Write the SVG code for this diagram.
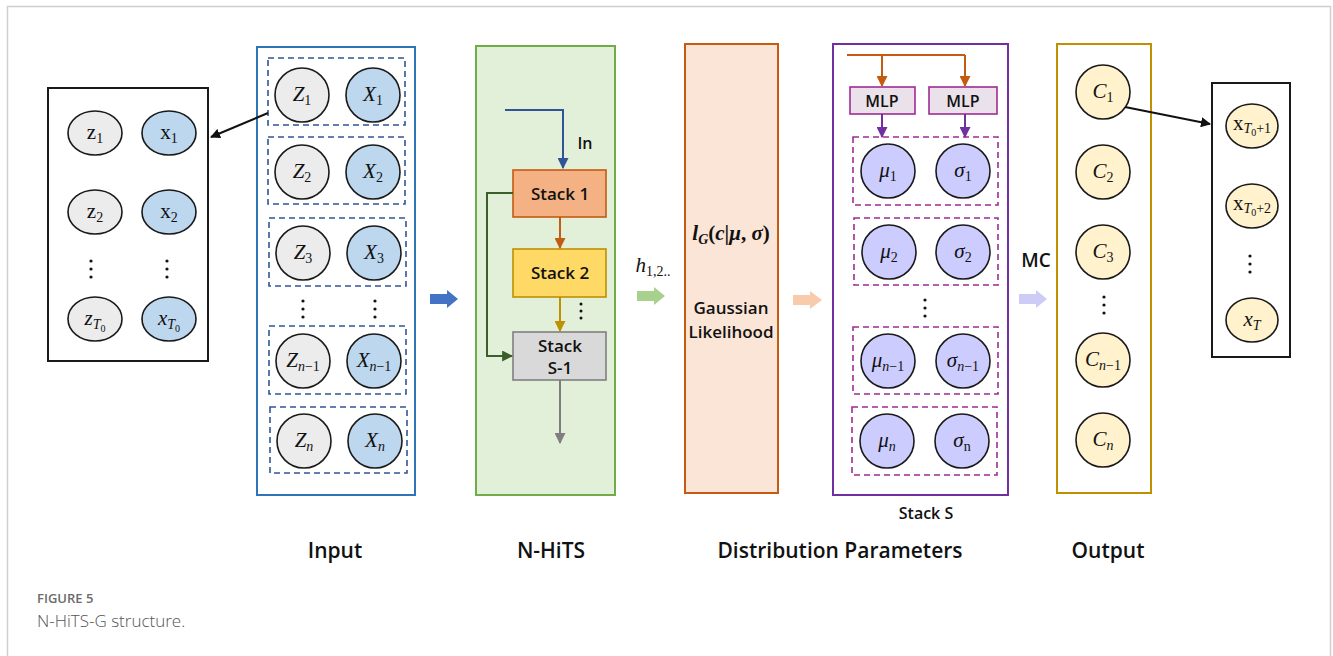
<svg xmlns="http://www.w3.org/2000/svg" width="1333" height="656" viewBox="0 0 1333 656">
<style>
.lbl{font-family:"Open Sans","Liberation Sans",sans-serif;font-weight:600;font-size:21px;text-anchor:middle;fill:#111}
.sans{font-family:"Open Sans","Liberation Sans",sans-serif;font-weight:600;text-anchor:middle;fill:#111}
.m{font-family:"Liberation Serif","DejaVu Serif",serif;font-style:italic;font-size:21px;text-anchor:middle;fill:#111}
.r{font-style:normal}
.s{font-size:14px;font-style:normal}
.si{font-size:14px;font-style:italic}
.ss{font-size:10px;font-style:normal}
.node{stroke:#1a1a1a;stroke-width:1.6}
.gray{fill:#ececec}.blue{fill:#bdd7ee}.lav{fill:#ccccff}.yel{fill:#fff2cc}
.dashB{fill:none;stroke:#2f5597;stroke-width:1.6;stroke-dasharray:6 4}
.dashP{fill:none;stroke:#a02b93;stroke-width:1.6;stroke-dasharray:6 4}
.dots{fill:#111}
</style>
<defs>
<marker id="aK" viewBox="0 0 10 10" refX="9" refY="5" markerWidth="10" markerHeight="10" markerUnits="userSpaceOnUse" orient="auto"><path d="M0,0 L10,5 L0,10 z" fill="#111"/></marker>
<marker id="aB" viewBox="0 0 10 10" refX="9" refY="5" markerWidth="11" markerHeight="11" markerUnits="userSpaceOnUse" orient="auto"><path d="M0,0 L10,5 L0,10 z" fill="#2f5597"/></marker>
<marker id="aO" viewBox="0 0 10 10" refX="9" refY="5" markerWidth="11" markerHeight="11" markerUnits="userSpaceOnUse" orient="auto"><path d="M0,0 L10,5 L0,10 z" fill="#c55a11"/></marker>
<marker id="aY" viewBox="0 0 10 10" refX="9" refY="5" markerWidth="11" markerHeight="11" markerUnits="userSpaceOnUse" orient="auto"><path d="M0,0 L10,5 L0,10 z" fill="#bf9000"/></marker>
<marker id="aG" viewBox="0 0 10 10" refX="9" refY="5" markerWidth="11" markerHeight="11" markerUnits="userSpaceOnUse" orient="auto"><path d="M0,0 L10,5 L0,10 z" fill="#7f7f7f"/></marker>
<marker id="aDG" viewBox="0 0 10 10" refX="9" refY="5" markerWidth="11" markerHeight="11" markerUnits="userSpaceOnUse" orient="auto"><path d="M0,0 L10,5 L0,10 z" fill="#3b5e2b"/></marker>
<marker id="aP" viewBox="0 0 10 10" refX="9" refY="5" markerWidth="11" markerHeight="11" markerUnits="userSpaceOnUse" orient="auto"><path d="M0,0 L10,5 L0,10 z" fill="#7030a0"/></marker>
</defs>
<rect width="1333" height="656" fill="#fff"/>
<path d="M7.5,670 V6.5 H1330.5 V670" fill="none" stroke="#cfcfcf" stroke-width="1.5"/>

<!-- left box -->
<g id="left-box">
<rect x="48" y="88" width="160" height="273" fill="#fff" stroke="#1a1a1a" stroke-width="2"/>
<ellipse class="node gray" cx="95" cy="133" rx="27" ry="22"/>
<ellipse class="node blue" cx="169" cy="133" rx="27" ry="22"/>
<ellipse class="node gray" cx="95" cy="212" rx="27" ry="22"/>
<ellipse class="node blue" cx="169" cy="212" rx="27" ry="22"/>
<ellipse class="node gray" cx="95" cy="319" rx="27" ry="22"/>
<ellipse class="node blue" cx="169" cy="319" rx="27" ry="22"/>
<text class="m r" x="95" y="139">z<tspan class="s" dy="4">1</tspan></text>
<text class="m r" x="169" y="139">x<tspan class="s" dy="4">1</tspan></text>
<text class="m r" x="95" y="218">z<tspan class="s" dy="4">2</tspan></text>
<text class="m r" x="169" y="218">x<tspan class="s" dy="4">2</tspan></text>
<text class="m" x="95" y="325">z<tspan class="si" dy="4">T</tspan><tspan class="ss" dy="3">0</tspan></text>
<text class="m" x="169" y="325">x<tspan class="si" dy="4">T</tspan><tspan class="ss" dy="3">0</tspan></text>
<g class="dots"><circle cx="91" cy="261" r="1.6"/><circle cx="91" cy="269" r="1.6"/><circle cx="91" cy="277" r="1.6"/><circle cx="167" cy="261" r="1.6"/><circle cx="167" cy="269" r="1.6"/><circle cx="167" cy="277" r="1.6"/></g>
</g>

<!-- input -->
<g id="input">
<rect x="257" y="47" width="158" height="448" fill="#fff" stroke="#2e75b6" stroke-width="2"/>
<rect class="dashB" x="268" y="58" width="137" height="67"/>
<rect class="dashB" x="268" y="137" width="137" height="67"/>
<rect class="dashB" x="269" y="218" width="137" height="68"/>
<rect class="dashB" x="269" y="326" width="137" height="68"/>
<rect class="dashB" x="270" y="407" width="137" height="66"/>
<circle class="node gray" cx="302" cy="95" r="27"/><circle class="node blue" cx="373" cy="95" r="27"/>
<circle class="node gray" cx="302" cy="172" r="27"/><circle class="node blue" cx="373" cy="172" r="27"/>
<circle class="node gray" cx="303" cy="253" r="27"/><circle class="node blue" cx="374" cy="253" r="27"/>
<circle class="node gray" cx="303" cy="361" r="27"/><circle class="node blue" cx="374" cy="361" r="27"/>
<circle class="node gray" cx="304" cy="441" r="27"/><circle class="node blue" cx="375" cy="441" r="27"/>
<text class="m" x="302" y="101">Z<tspan class="s" dy="4">1</tspan></text>
<text class="m" x="373" y="101">X<tspan class="s" dy="4">1</tspan></text>
<text class="m" x="302" y="178">Z<tspan class="s" dy="4">2</tspan></text>
<text class="m" x="373" y="178">X<tspan class="s" dy="4">2</tspan></text>
<text class="m" x="303" y="259">Z<tspan class="s" dy="4">3</tspan></text>
<text class="m" x="374" y="259">X<tspan class="s" dy="4">3</tspan></text>
<text class="m" x="303" y="367">Z<tspan class="si" dy="4">n</tspan><tspan class="s">−1</tspan></text>
<text class="m" x="374" y="367">X<tspan class="si" dy="4">n</tspan><tspan class="s">−1</tspan></text>
<text class="m" x="304" y="447">Z<tspan class="si" dy="4">n</tspan></text>
<text class="m" x="375" y="447">X<tspan class="si" dy="4">n</tspan></text>
<g class="dots"><circle cx="303" cy="301" r="1.6"/><circle cx="303" cy="309" r="1.6"/><circle cx="303" cy="317" r="1.6"/><circle cx="375" cy="301" r="1.6"/><circle cx="375" cy="309" r="1.6"/><circle cx="375" cy="317" r="1.6"/></g>
</g>

<!-- N-HiTS -->
<g id="nhits">
<rect x="476" y="46" width="139" height="449" fill="#e2f0d9" stroke="#70ad47" stroke-width="2"/>
<text class="sans" x="585" y="149" font-size="16" font-weight="500">In</text>
</g>
<g id="stack1">
<rect x="513" y="170" width="93" height="47" fill="#f4b183" stroke="#c55a11" stroke-width="1.6"/>
<text class="sans" x="560" y="200" font-size="17">Stack 1</text>
</g>
<g id="stack2">
<rect x="513" y="249" width="93" height="48" fill="#ffd966" stroke="#bf9000" stroke-width="1.6"/>
<text class="sans" x="560" y="279" font-size="17">Stack 2</text>
</g>
<g id="stack-s-1">
<rect x="513" y="332" width="93" height="48" fill="#d9d9d9" stroke="#7f7f7f" stroke-width="1.6"/>
<text class="sans" x="560" y="352" font-size="17">Stack</text>
<text class="sans" x="560" y="374" font-size="17">S-1</text>
</g>
<g class="dots"><circle cx="581" cy="304" r="1.5"/><circle cx="581" cy="311" r="1.5"/><circle cx="581" cy="318" r="1.5"/></g>

<text class="m" x="653" y="272">h<tspan class="s" dy="4">1,2..</tspan></text>

<!-- distribution -->
<g id="likelihood">
<rect x="685" y="44" width="93" height="449" fill="#fbe5d6" stroke="#c55a11" stroke-width="2"/>
<text class="m" x="731" y="240" font-weight="bold" font-size="20">l<tspan class="si" dy="4">G</tspan><tspan dy="-4" font-style="normal">(</tspan>c<tspan font-style="normal">|</tspan>μ<tspan font-style="normal">, </tspan>σ<tspan font-style="normal">)</tspan></text>
<text class="sans" x="731" y="314" font-size="17" font-weight="500">Gaussian</text>
<text class="sans" x="731" y="338" font-size="17" font-weight="500">Likelihood</text>
</g>

<g id="stack-s">
<rect x="833" y="44" width="175" height="451" fill="#fff" stroke="#7030a0" stroke-width="2"/>
<text class="sans" x="926" y="519" font-size="16">Stack S</text>
<rect x="850" y="87" width="65" height="27" fill="#ebe1ea" stroke="#a02b93" stroke-width="1.6"/>
<rect x="929" y="87" width="68" height="27" fill="#ebe1ea" stroke="#a02b93" stroke-width="1.6"/>
<text class="sans" x="882" y="107" font-size="16" font-weight="500">MLP</text>
<text class="sans" x="963" y="107" font-size="16" font-weight="500">MLP</text>
<rect class="dashP" x="853" y="137" width="145" height="68"/>
<rect class="dashP" x="854" y="218" width="144" height="67"/>
<rect class="dashP" x="853" y="327" width="145" height="67"/>
<rect class="dashP" x="852" y="407" width="145" height="68"/>
<circle class="node lav" cx="888" cy="171" r="27"/><circle class="node lav" cx="963" cy="171" r="27"/>
<circle class="node lav" cx="889" cy="252" r="27"/><circle class="node lav" cx="963" cy="252" r="27"/>
<circle class="node lav" cx="888" cy="361" r="27"/><circle class="node lav" cx="963" cy="361" r="27"/>
<circle class="node lav" cx="887" cy="441" r="27"/><circle class="node lav" cx="962" cy="441" r="27"/>
<text class="m" x="888" y="177">μ<tspan class="s" dy="4">1</tspan></text>
<text class="m" x="963" y="177">σ<tspan class="s" dy="4">1</tspan></text>
<text class="m" x="889" y="258">μ<tspan class="s" dy="4">2</tspan></text>
<text class="m" x="963" y="258">σ<tspan class="s" dy="4">2</tspan></text>
<text class="m" x="888" y="367">μ<tspan class="si" dy="4">n</tspan><tspan class="s">−1</tspan></text>
<text class="m" x="963" y="367">σ<tspan class="si" dy="4">n</tspan><tspan class="s">−1</tspan></text>
<text class="m" x="887" y="447">μ<tspan class="si" dy="4">n</tspan></text>
<text class="m" x="962" y="447">σ<tspan class="s" dy="4">n</tspan></text>
<g class="dots"><circle cx="925" cy="300" r="1.6"/><circle cx="925" cy="308" r="1.6"/><circle cx="925" cy="316" r="1.6"/></g>
</g>

<text class="sans" x="1036" y="267" font-size="19" font-weight="bold">MC</text>

<g id="output">
<rect x="1057" y="44" width="94" height="449" fill="#fff" stroke="#bf9000" stroke-width="2"/>
<circle class="node yel" cx="1103" cy="92" r="27"/>
<circle class="node yel" cx="1103" cy="172" r="27"/>
<circle class="node yel" cx="1103" cy="252" r="27"/>
<circle class="node yel" cx="1103" cy="360" r="27"/>
<circle class="node yel" cx="1103" cy="440" r="27"/>
<text class="m" x="1103" y="98">C<tspan class="s" dy="4">1</tspan></text>
<text class="m" x="1103" y="178">C<tspan class="s" dy="4">2</tspan></text>
<text class="m" x="1103" y="258">C<tspan class="s" dy="4">3</tspan></text>
<text class="m" x="1103" y="366">C<tspan class="si" dy="4">n</tspan><tspan class="s">−1</tspan></text>
<text class="m" x="1103" y="446">C<tspan class="si" dy="4">n</tspan></text>
<g class="dots"><circle cx="1104" cy="297" r="1.6"/><circle cx="1104" cy="305" r="1.6"/><circle cx="1104" cy="313" r="1.6"/></g>
</g>

<g id="right-box">
<rect x="1212" y="83" width="78" height="274" fill="#fff" stroke="#1a1a1a" stroke-width="2"/>
<ellipse class="node yel" cx="1252" cy="126" rx="26" ry="22"/>
<ellipse class="node yel" cx="1252" cy="206" rx="26" ry="22"/>
<ellipse class="node yel" cx="1252" cy="320" rx="26" ry="22"/>
<text class="m r" x="1252" y="130" font-size="17">x<tspan class="si" dy="3">T</tspan><tspan class="ss" dy="3">0</tspan><tspan class="s" dy="-3">+1</tspan></text>
<text class="m r" x="1252" y="210" font-size="17">x<tspan class="si" dy="3">T</tspan><tspan class="ss" dy="3">0</tspan><tspan class="s" dy="-3">+2</tspan></text>
<text class="m" x="1252" y="326">x<tspan class="si" dy="4">T</tspan></text>
<g class="dots"><circle cx="1250" cy="256" r="1.6"/><circle cx="1250" cy="264" r="1.6"/><circle cx="1250" cy="272" r="1.6"/></g>
</g>

<!-- connectors -->
<g id="connectors" fill="none" stroke-width="2">
<line x1="268" y1="113" x2="211" y2="137" stroke="#111" marker-end="url(#aK)"/>
<line x1="1125" y1="107" x2="1210" y2="124" stroke="#111" marker-end="url(#aK)"/>
<polyline points="505,110 563,110 563,168" stroke="#2f5597" marker-end="url(#aB)"/>
<line x1="560" y1="217" x2="560" y2="248" stroke="#c55a11" marker-end="url(#aO)"/>
<line x1="560" y1="297" x2="560" y2="331" stroke="#bf9000" marker-end="url(#aY)"/>
<line x1="560" y1="380" x2="560" y2="443" stroke="#7f7f7f" marker-end="url(#aG)"/>
<polyline points="513,193 487,193 487,356 512,356" stroke="#3b5e2b" marker-end="url(#aDG)"/>
<polyline points="847,55 965,55" stroke="#c55a11"/>
<line x1="882" y1="55" x2="882" y2="86" stroke="#c55a11" marker-end="url(#aO)"/>
<line x1="965" y1="55" x2="965" y2="86" stroke="#c55a11" marker-end="url(#aO)"/>
<line x1="882" y1="114" x2="882" y2="137" stroke="#7030a0" marker-end="url(#aP)"/>
<line x1="965" y1="114" x2="965" y2="137" stroke="#7030a0" marker-end="url(#aP)"/>
<polygon points="430,294 447,294 447,290 458,299 447,308 447,304 430,304" fill="#4472c4" stroke="none"/>
<polygon points="637,291 654,291 654,287 665,296 654,305 654,301 637,301" fill="#a9d18e" stroke="none"/>
<polygon points="793,295 810,295 810,291 822,300 810,309 810,305 793,305" fill="#f8cbad" stroke="none"/>
<polygon points="1019,294 1036,294 1036,290 1047,299 1036,308 1036,304 1019,304" fill="#ccccf7" stroke="none"/>
</g>

<text class="lbl" x="335" y="558">Input</text>
<text class="lbl" x="551" y="558">N-HiTS</text>
<text class="lbl" x="840" y="558">Distribution Parameters</text>
<text class="lbl" x="1108" y="558">Output</text>

<text x="37" y="603" font-family="'Open Sans','Liberation Sans',sans-serif" font-size="13" font-weight="600" fill="#6b6b6b">FIGURE 5</text>
<text x="37" y="627" font-family="'Open Sans','Liberation Sans',sans-serif" font-size="17" font-weight="300" fill="#555">N-HiTS-G structure.</text>
</svg>
